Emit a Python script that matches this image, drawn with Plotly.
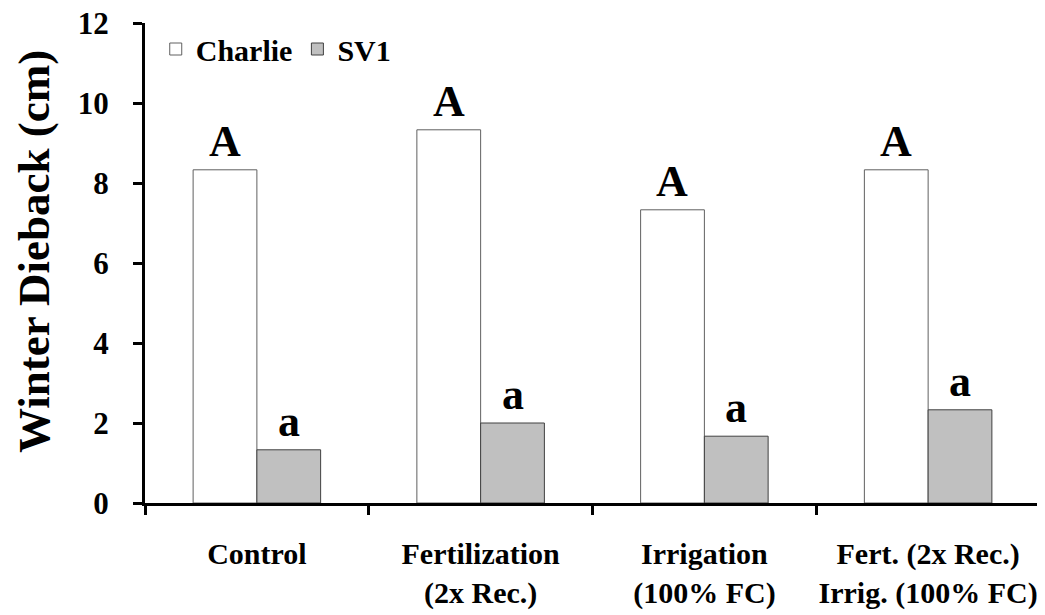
import plotly.graph_objects as go

categories = ["Control", "Fertilization<br>(2x Rec.)", "Irrigation<br>(100% FC)",
              "Fert. (2x Rec.)<br>Irrig. (100% FC)"]
charlie = [8.33, 9.33, 7.33, 8.33]
sv1 = [1.33, 2.0, 1.67, 2.33]
charlie_letters = ["A", "A", "A", "A"]
sv1_letters = ["a", "a", "a", "a"]
y_ticks = [0, 2, 4, 6, 8, 10, 12]
y_title = "Winter Dieback (cm)"

FONT = "Liberation Serif"

def f(size):
    return dict(family=FONT, size=size, color="black", weight="bold")

fig = go.Figure()
fig.add_trace(go.Bar(x=categories, y=charlie, name="Charlie",
                     marker=dict(color="white", line=dict(color="#606060", width=1))))
fig.add_trace(go.Bar(x=categories, y=sv1, name="SV1",
                     marker=dict(color="#c0c0c0", line=dict(color="#404040", width=1))))

for cat, v, t in zip(categories, charlie, charlie_letters):
    fig.add_annotation(x=cat, y=v, text=t, showarrow=False, xref="x", yref="y",
                       xanchor="center", yanchor="bottom", xshift=-32, yshift=2,
                       font=f(44))
for cat, v, t in zip(categories, sv1, sv1_letters):
    fig.add_annotation(x=cat, y=v, text=t, showarrow=False, xref="x", yref="y",
                       xanchor="center", yanchor="bottom", xshift=32, yshift=2,
                       font=f(44))

# y-axis title (placed as rotated text to match its offset in the reference)
fig.add_annotation(x=0, y=0.5, xref="paper", yref="paper", text=y_title,
                   textangle=-90, showarrow=False, xanchor="center", yanchor="middle",
                   xshift=-111, yshift=11, font=f(45))

fig.update_layout(
    width=1045, height=615,
    margin=dict(l=137, r=13, t=15, b=120, autoexpand=False),
    paper_bgcolor="white", plot_bgcolor="white",
    barmode="group", bargap=0.43, bargroupgap=0,
    font=f(30),
    showlegend=True,
    legend=dict(orientation="h", x=0.012, y=1.0, xanchor="left", yanchor="top",
                font=f(30), bgcolor="rgba(0,0,0,0)", itemwidth=30,
                tracegroupgap=0),
    xaxis=dict(showline=True, linecolor="black", linewidth=3,
               ticks="outside", tickson="boundaries", ticklen=9, tickwidth=3,
               tickcolor="black", showgrid=False, automargin=False, tickangle=0,
               tickfont=f(30), ticklabelstandoff=22),
    yaxis=dict(range=[0, 12], tickvals=y_ticks, showline=True, linecolor="black",
               linewidth=3, ticks="outside", ticklen=9, tickwidth=3, tickcolor="black",
               showgrid=False, zeroline=False, automargin=False,
               ticklabeloverflow="allow",
               tickfont=f(31), ticklabelstandoff=18),
)

fig.write_html("out.html")
